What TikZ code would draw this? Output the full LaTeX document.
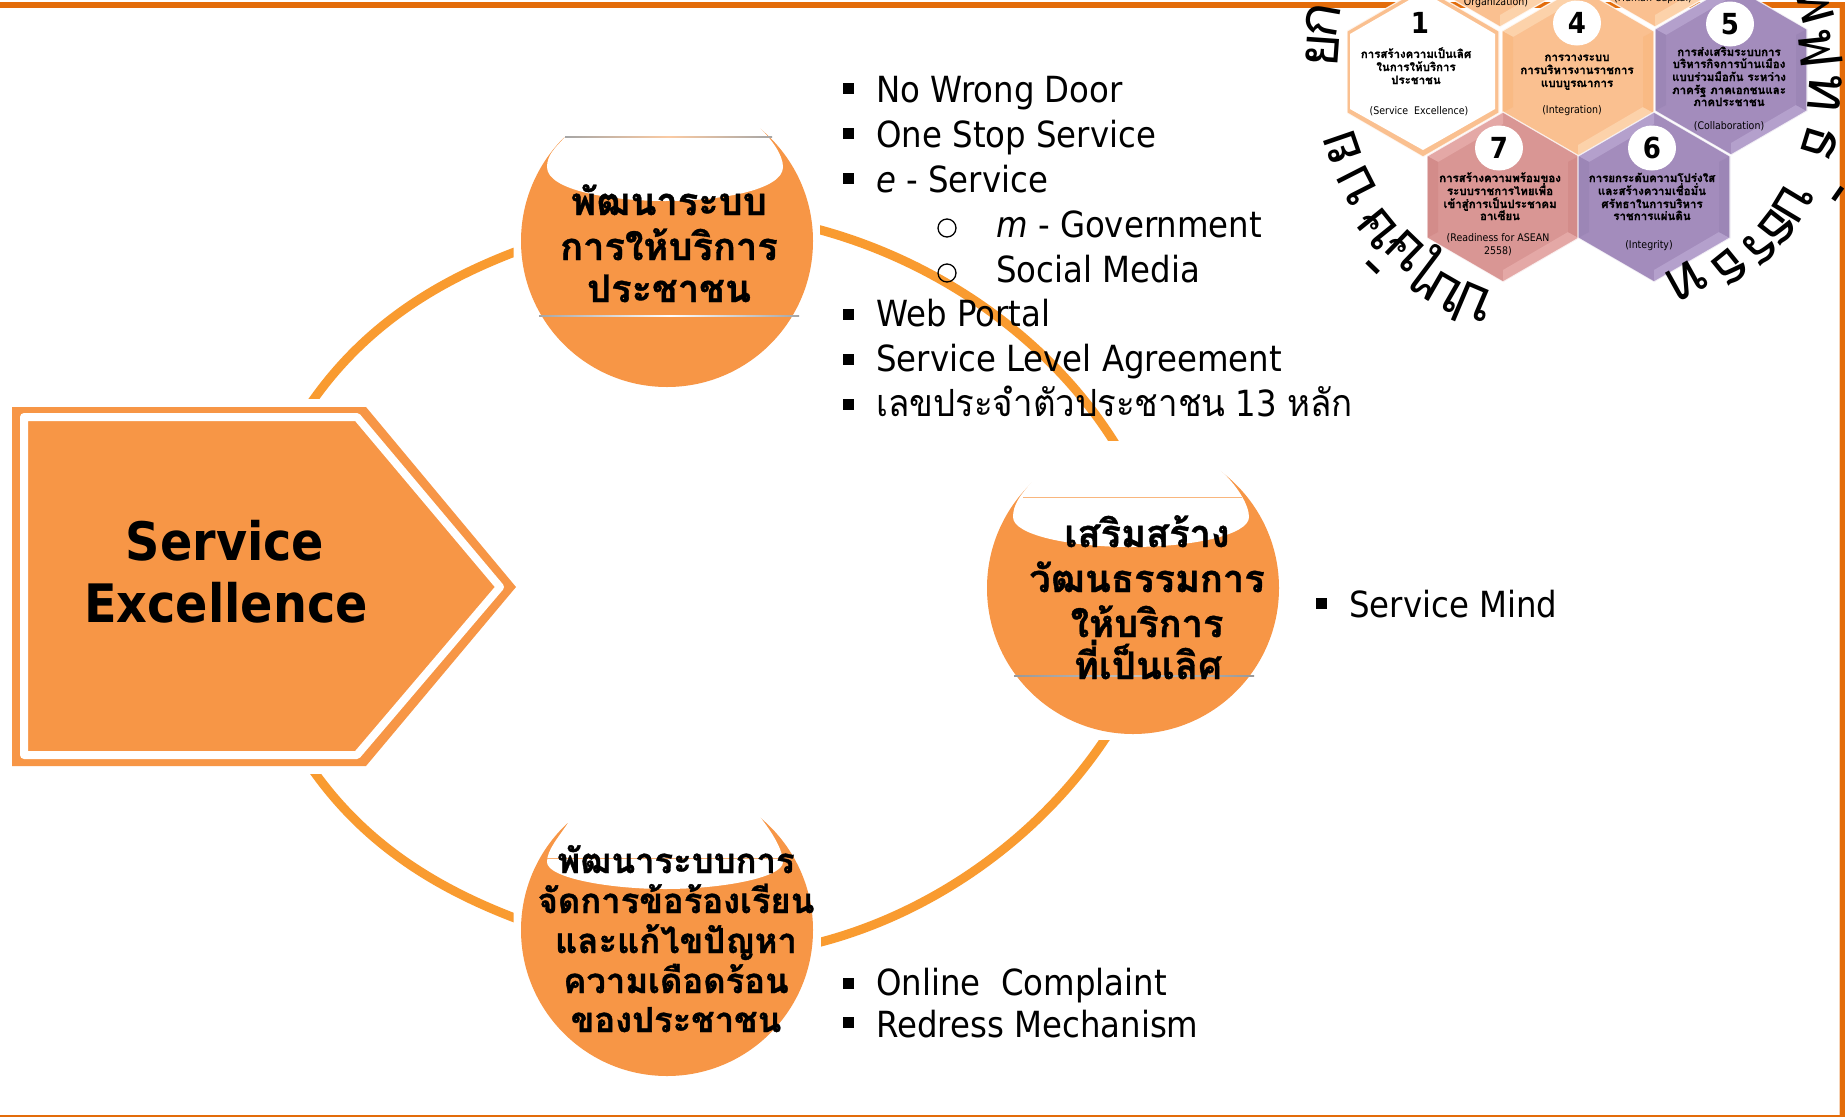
\documentclass[tikz,border=0pt]{standalone}
\usepackage{fontspec}
\newfontfamily\tah[FakeStretch=0.9]{DejaVu Sans}
\newfontfamily\thai[Script=Thai,BoldFeatures={FakeBold=1.0}]{Loma}
\newfontfamily\thain[Script=Thai,FakeStretch=0.93]{Loma}
\newcommand{\fs}[1]{\fontsize{#1}{#1}\selectfont}
\definecolor{band}{HTML}{E36C0A}
\definecolor{orfill}{HTML}{F79646}
\definecolor{arcor}{HTML}{F99B30}
\definecolor{hexor}{HTML}{FAC090}
\definecolor{hexorl}{HTML}{FCD2AA}
\definecolor{hexord}{HTML}{F9BA84}
\definecolor{hexpu}{HTML}{A38CBC}
\definecolor{hexpul}{HTML}{B4A0CC}
\definecolor{hexpud}{HTML}{9C86B6}
\definecolor{hexpi}{HTML}{D99694}
\definecolor{hexpil}{HTML}{E4A8A6}
\definecolor{hexpid}{HTML}{D38C8A}
\tikzset{
 blob/.style={orfill,circle,fill,inner sep=0,minimum size=292pt},
 tline/.style={inner sep=0,anchor=base},
 lline/.style={inner sep=0,anchor=base west},
 arcline/.style={draw=arcor,line width=9pt},
 sqbul/.style={fill=black,inner sep=0,minimum size=11pt},
 rdbul/.style={draw=black,circle,line width=1.3pt,inner sep=0,minimum size=18pt},
 ringg/.style={inner sep=0,anchor=center,font=\thai\fs{58}},
 circ/.style={inner sep=0,font=\thai\bfseries\fs{38}\selectfont,anchor=base},
 circs/.style={inner sep=0,font=\thai\bfseries\fs{34.6}\selectfont,anchor=base},
 item/.style={inner sep=0,anchor=base west,font=\tah\fs{36}},
 hx/.style={inner sep=0,anchor=base,font=\thai\bfseries\fs{11.5}},
 hp/.style={inner sep=0,anchor=base,font=\tah\fs{10.5}},
 numc/.style={fill=white,ellipse,inner sep=0,minimum width=48pt,minimum height=45pt},
 numd/.style={inner sep=0,font=\tah\bfseries\fs{29}},
}
\usetikzlibrary{shapes.geometric}
% cx cy base light dark
\newcommand{\hexcell}[5]{%
 \fill[#3] ({#1-76},{#2-41}) -- (#1,{#2-85}) -- ({#1+76},{#2-41}) -- ({#1+76},{#2+41}) -- (#1,{#2+85}) -- ({#1-76},{#2+41}) -- cycle;
 \fill[#4] ({#1-76},{#2-41}) -- (#1,{#2-85}) -- (#1,{#2-73}) -- ({#1-65},{#2-35}) -- cycle;
 \fill[#4] ({#1+76},{#2+41}) -- (#1,{#2+85}) -- (#1,{#2+73}) -- ({#1+65},{#2+35}) -- cycle;
 \fill[#5] ({#1+76},{#2-41}) -- ({#1+76},{#2+41}) -- ({#1+65},{#2+35}) -- ({#1+65},{#2-35}) -- cycle;
 \fill[#5] ({#1-76},{#2-41}) -- ({#1-76},{#2+41}) -- ({#1-65},{#2+35}) -- ({#1-65},{#2-35}) -- cycle;
 \draw[white,line width=1.2pt,opacity=.8] ({#1-76},{#2-41}) -- (#1,{#2-85}) -- ({#1+76},{#2-41}) -- ({#1+76},{#2+41}) -- (#1,{#2+85}) -- ({#1-76},{#2+41}) -- cycle;
}
\begin{document}
\begin{tikzpicture}[x=1pt,y=-1pt]
\useasboundingbox (0,0) rectangle (1845,1117);
\fill[white] (0,0) rectangle (1845,1117);
% frame
\fill[band] (0,2) rectangle (1845,8);
\fill[band] (1840,2) rectangle (1845,1117);
\fill[band] (0,1115) rectangle (1845,1117);
\fill[band!30] (1838.5,8) rectangle (1840,1115);
% big circles
\node[blob] (c1) at (667,241) {};
\node[blob] (c2) at (1133,588) {};
\node[blob] (c3) at (667,930) {};
% highlights
\fill[white] (565,137) .. controls (555,148) and (547,155) .. (547,167) .. controls (547,190) and (610,201) .. (665,201) .. controls (720,201) and (783,190) .. (783,167) .. controls (783,155) and (772,140) .. (760,128) -- (768,128) -- (768,85) -- (555,85) -- (555,137) -- cycle;
\fill[white] (1032,482) .. controls (1020,495) and (1013,505) .. (1013,517) .. controls (1013,535) and (1070,547) .. (1131,547) .. controls (1192,547) and (1249,535) .. (1249,517) .. controls (1249,505) and (1237,485) .. (1220,470) -- (1228,470) -- (1228,430) -- (1024,430) -- (1024,482) -- cycle;
\fill[white] (568,823) .. controls (558,838) and (547,850) .. (547,862) .. controls (547,878) and (610,889) .. (665,889) .. controls (720,889) and (783,878) .. (783,862) .. controls (783,850) and (772,832) .. (760,817) -- (768,817) -- (768,775) -- (560,775) -- (560,823) -- cycle;
% thin lines
\shade[left color=gray!70,right color=gray!70,middle color=orfill!50] (565,136) rectangle (772,137);
\shade[left color=gray!70,right color=gray!70,middle color=white] (539,315.6) rectangle (799,316.6);
\fill[orfill!70] (1023,497) rectangle (1242,498);
\shade[left color=gray!80,right color=gray!80,middle color=gray!50] (1014,675.6) rectangle (1254,676.6);
\fill[orfill!80] (547,857.5) rectangle (783,858.5);
% arcs
\coordinate (a1s) at (305,412);
\coordinate (a1e) at (520,250);
\coordinate (a2s) at (813,228);
\coordinate (a2e) at (1122,455);
\coordinate (a3s) at (1114,725);
\coordinate (a3e) at (813,944);
\coordinate (a4s) at (306,760);
\coordinate (a4e) at (520,920);
\begin{scope}
\clip (250,200) rectangle (513.5,398);
\draw[arcline] (a1s) .. controls (362,325) and (440,280) .. (a1e);
\end{scope}
\begin{scope}
\clip (820,200) rectangle (1140,440);
\draw[arcline] (a2s) .. controls (930,258) and (1052,335) .. (a2e);
\end{scope}
\begin{scope}
\clip (821,740) rectangle (1140,960);
\draw[arcline] (a3s) .. controls (1046,835) and (932,915) .. (a3e);
\end{scope}
\begin{scope}
\clip (250,774) rectangle (513.5,960);
\draw[arcline] (a4s) .. controls (362,845) and (440,890) .. (a4e);
\end{scope}
% chevron
\fill[orfill] (12,407) -- (366,407) -- (516,587) -- (366,766) -- (12,766) -- cycle;
\draw[white,line width=8pt,line join=round,fill=orfill] (24,417) -- (357,417) -- (500,587) -- (357,755) -- (24,755) -- cycle;
\node[tline,font=\tah\bfseries\fs{53}] (sv) at (225,560) {Service};
\node[tline,font=\tah\bfseries\fs{53}] (ex) at (226,622) {Excellence};
% circle texts
\node[circ] (c1a) at (669,215) {พัฒนาระบบ};
\node[circ] (c1b) at (669,260) {การให้บริการ};
\node[circ] (c1c) at (669,302) {ประชาชน};
\node[circ] (c2a) at (1147,547) {เสริมสร้าง};
\node[circ] (c2b) at (1147,592) {วัฒนธรรมการ};
\node[circ] (c2c) at (1147,637) {ให้บริการ};
\node[circ] (c2d) at (1148,679) {ที่เป็นเลิศ};
\node[circs] (c3a) at (676,873) {พัฒนาระบบการ};
\node[circs] (c3b) at (676,913) {จัดการข้อร้องเรียน};
\node[circs] (c3c) at (676,953) {และแก้ไขปัญหา};
\node[circs] (c3d) at (676,993) {ความเดือดร้อน};
\node[circs] (c3e) at (676,1032) {ของประชาชน};
% list 1
\foreach \n/\y in {a/88,b/133,c/178,d/314,e/359,f/404}{\node[sqbul] (bu\n) at (848,\y) {};}
\node[rdbul] (bug) at (947,228) {};
\node[rdbul] (buh) at (947,273) {};
\node[item] (i1) at (876,102) {No Wrong Door};
\node[item] (i2) at (876,147) {One Stop Service};
\node[item] (i3) at (876,192) {\itshape e\upshape{} - Service};
\node[item] (i4) at (996,237) {\itshape m\upshape{} - Government};
\node[item] (i5) at (996,282) {Social Media};
\node[item] (i6) at (876,326) {Web Portal};
\node[item] (i7) at (876,371) {Service Level Agreement};
\node[item] (i8) at (876,416) {{\thain\fs{37.5}เลขประจำตัวประชาชน} 13 {\thain\fs{37.5}หลัก}};
% list 2
\node[sqbul] (bui) at (1321,603) {};
\node[item] (i9) at (1349,617) {Service Mind};
% list 3
\node[sqbul] (buj) at (848,983) {};
\node[sqbul] (buk) at (848,1022) {};
\node[item] (i10) at (876,995) {Online\ \ Complaint};
\node[item] (i11) at (876,1037) {Redress Mechanism};
% hexagons
\hexcell{1500}{-58}{hexor}{hexorl}{hexord}
\hexcell{1655}{-58}{hexor}{hexorl}{hexord}
\hexcell{1578}{72}{hexor}{hexorl}{hexord}
\hexcell{1423}{72}{hexor}{hexor}{hexor}
\fill[white] (1350,34) -- (1423,-8) -- (1495,34) -- (1495,109) -- (1423,150) -- (1350,109) -- cycle;
\hexcell{1731}{70}{hexpu}{hexpul}{hexpud}
\hexcell{1503}{197}{hexpi}{hexpil}{hexpid}
\hexcell{1654}{197}{hexpu}{hexpul}{hexpud}
\node[hp] (h2p) at (1496,5) {Organization)};
\node[hp] (h3p) at (1653,1) {(Human Capital)};
% number badges
\node[numd] (n1) at (1420,23) {1};
\node[numc] (nc4) at (1577,23) {}; \node[numd] (n4) at (nc4) {4};
\node[numc] (nc5) at (1730,24) {}; \node[numd] (n5) at (nc5) {5};
\node[numc] (nc7) at (1499,148) {}; \node[numd] (n7) at (nc7) {7};
\node[numc] (nc6) at (1652,148) {}; \node[numd] (n6) at (nc6) {6};
% hex texts
\node[hx] (h1a) at (1416,58) {การสร้างความเป็นเลิศ};
\node[hx] (h1b) at (1416,71) {ในการให้บริการ};
\node[hx] (h1c) at (1416,84) {ประชาชน};
\node[hp] (h1p) at (1419,114) {(Service\ \ Excellence)};
\node[hx] (h4a) at (1577,61) {การวางระบบ};
\node[hx] (h4b) at (1577,74) {การบริหารงานราชการ};
\node[hx] (h4c) at (1577,87) {แบบบูรณาการ};
\node[hp] (h4p) at (1572,113) {(Integration)};
\node[hx] (h5a) at (1729,56) {การส่งเสริมระบบการ};
\node[hx] (h5b) at (1729,68) {บริหารกิจการบ้านเมือง};
\node[hx] (h5c) at (1729,81) {แบบร่วมมือกัน ระหว่าง};
\node[hx] (h5d) at (1729,94) {ภาครัฐ ภาคเอกชนและ};
\node[hx] (h5e) at (1729,106) {ภาคประชาชน};
\node[hp] (h5p) at (1729,129) {(Collaboration)};
\node[hx] (h7a) at (1500,182) {การสร้างความพร้อมของ};
\node[hx] (h7b) at (1500,195) {ระบบราชการไทยเพื่อ};
\node[hx] (h7c) at (1500,208) {เข้าสู่การเป็นประชาคม};
\node[hx] (h7d) at (1500,220) {อาเซียน};
\node[hp] (h7p) at (1498,241) {(Readiness for ASEAN};
\node[hp] (h7q) at (1498,254) {2558)};
\node[hx] (h6a) at (1652,182) {การยกระดับความโปร่งใส};
\node[hx] (h6b) at (1652,195) {และสร้างความเชื่อมั่น};
\node[hx] (h6c) at (1652,208) {ศรัทธาในการบริหาร};
\node[hx] (h6d) at (1652,220) {ราชการแผ่นดิน};
\node[hp] (h6p) at (1649,248) {(Integrity)};
% curved ring text
\node[ringg,rotate=80] (r1) at (1323,20) {ก};
\node[ringg,rotate=86] (r2) at (1322,50) {ย};
\node[ringg,rotate=109] (r3) at (1343,148) {ย};
\node[ringg,rotate=117] (r4) at (1358,185) {บ};
\node[ringg,rotate=129] (r5) at (1378,228) {ษ};
\node[ringg,rotate=136] (r6) at (1405,250) {ษ};
\node[ringg,rotate=136] (r7) at (1377,263) {-};
\node[ringg,rotate=143] (r8) at (1428,270) {ไ};
\node[ringg,rotate=150] (r9) at (1445,292) {บ};
\node[ringg,rotate=157] (r10) at (1473,307) {ป};
\node[ringg,rotate=-75] (r11) at (1815,5) {พ};
\node[ringg,rotate=-84] (r12) at (1820,48) {ฟ};
\node[ringg,rotate=-95] (r13) at (1825,93) {ท};
\node[ringg,rotate=-107] (r14) at (1820,143) {ธ};
\node[ringg,rotate=-121] (r15) at (1793,203) {บ};
\node[ringg,rotate=-128] (r16) at (1777,227) {ธ};
\node[ringg,rotate=-125] (r17) at (1833,190) {-};
\node[ringg,rotate=-133] (r18) at (1760,247) {ร};
\node[ringg,rotate=-141] (r19) at (1730,267) {ธ};
\node[ringg,rotate=-151] (r20) at (1687,280) {ท};
\end{tikzpicture}
\end{document}
